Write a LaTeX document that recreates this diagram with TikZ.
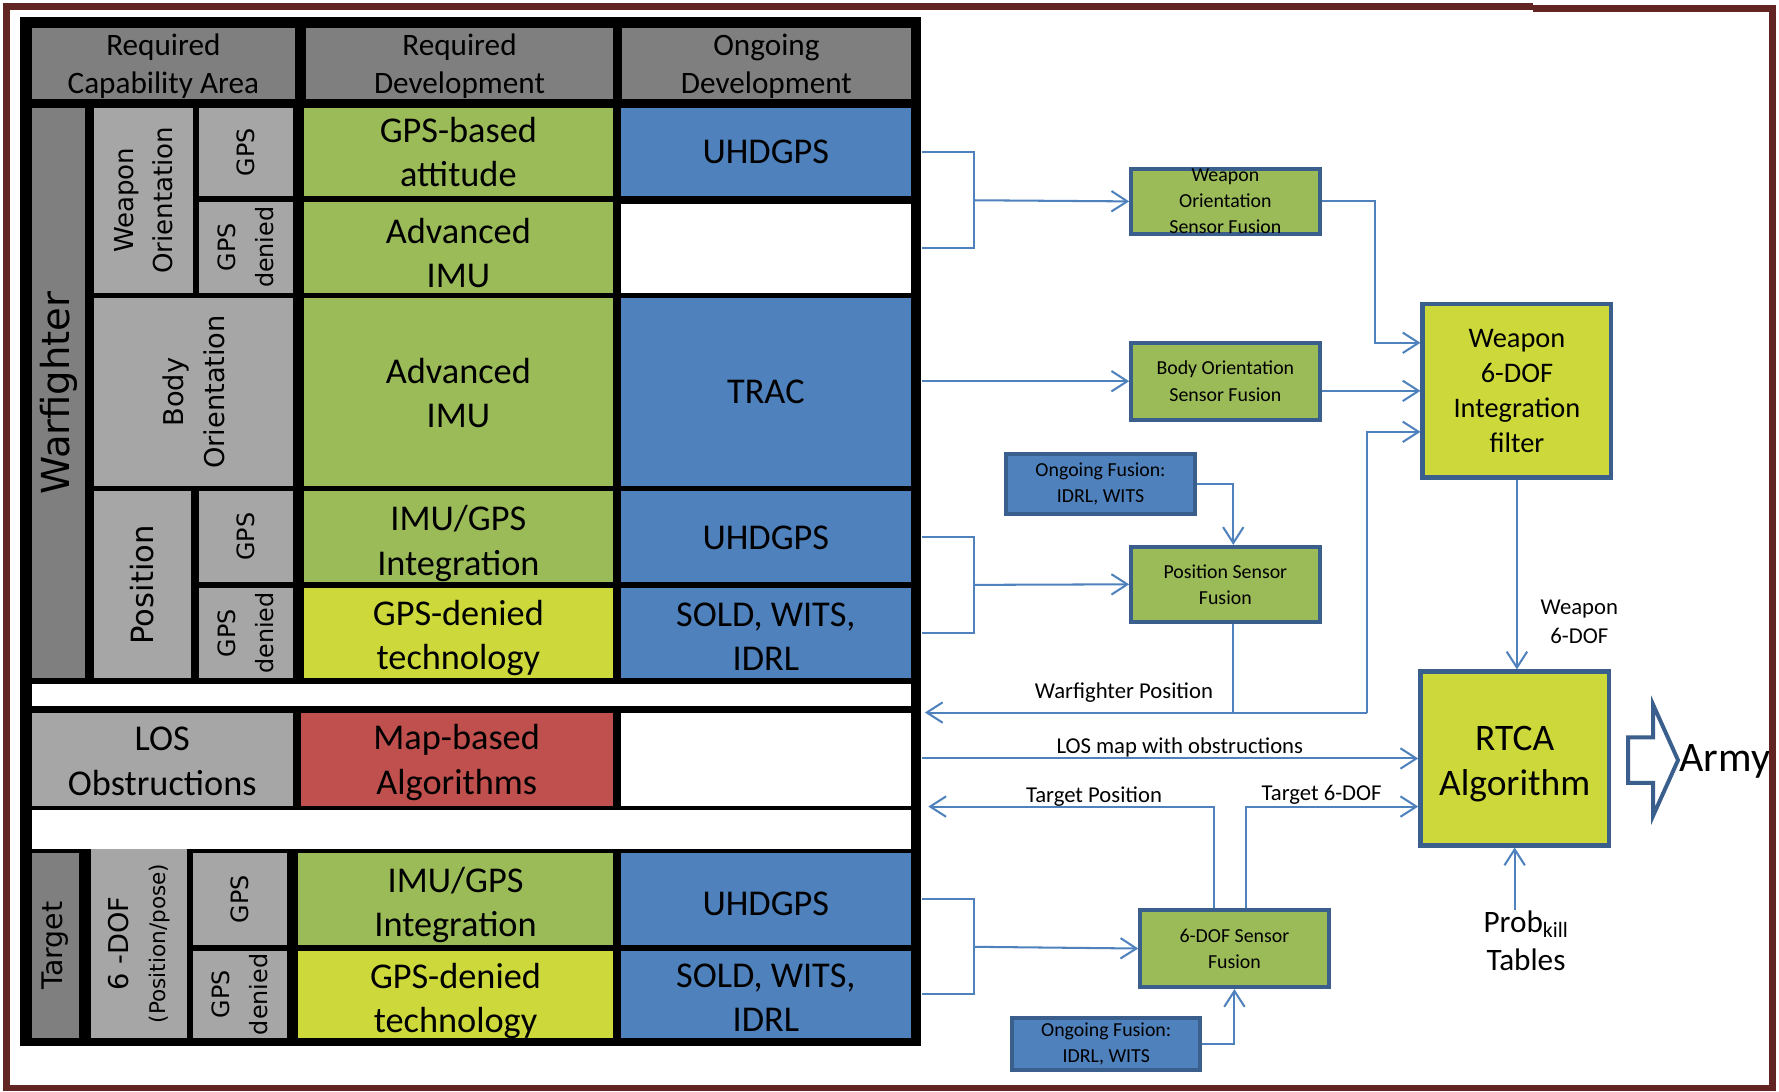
\documentclass[tikz,border=0pt]{standalone}
\usepackage{fontspec}
\setmainfont{Carlito}
\newfontfamily\vfont{DejaVu Sans}
\usetikzlibrary{arrows.meta,calc}

\definecolor{hdrgray}{HTML}{7F7F7F}
\definecolor{lgray}{HTML}{A6A6A6}
\definecolor{cgreen}{HTML}{9BBB59}
\definecolor{cblue}{HTML}{4F81BD}
\definecolor{cyellow}{HTML}{CDD93A}
\definecolor{cred}{HTML}{C0504D}
\definecolor{boxline}{HTML}{3A5F8C}
\definecolor{framered}{HTML}{632523}

\tikzset{
  tdrop/.store in=\tdrop, tdrop=0,
  cellbox/.style={inner sep=0pt, align=center, font=\fontsize{32}{39}\selectfont},
  hdr/.style={cellbox, fill=hdrgray, tdrop=2.5, font=\fontsize{27.5}{33}\selectfont},
  vlab/.style 2 args={rotate=90, align=center, inner sep=0pt, font=\vfont\fontsize{#1}{#2}\selectfont},
  fusebox/.style={draw=boxline, line width=3.5pt, fill=cgreen, inner sep=0pt, align=center,
    minimum width=166pt, font=\fontsize{17.5}{23}\selectfont},
  bigbox/.style={draw=boxline, line width=4pt, fill=cyellow, inner sep=0pt, align=center,
    minimum width=166pt, minimum height=153pt},
  link/.style={draw=cblue, line width=1.8pt},
  arr/.style={link, -{Straight Barb[length=14pt,width=18pt]}},
  lab/.style={inner sep=0pt, anchor=south, font=\fontsize{20}{25}\selectfont},
}

% table cell from its corners (x1,y1) to (x2,y2), text dropped by tdrop
\newcommand{\tcell}[7][]{%
  \node[cellbox,#1,minimum width={#5-#3},minimum height={#6-#4}] (#2)
    at ({(#3+#5)/2},{(#4+#6)/2}) {};
  \node[cellbox,#1,fill=none,yshift=-\tdrop] at (#2.center) {#7};}

\begin{document}
\begin{tikzpicture}[x=1pt,y=-1pt]
  \useasboundingbox (0,0) rectangle (1568,962);
  % table
  \node[fill=black, inner sep=0pt, minimum width=794pt, minimum height=907pt] (tbl) at (415,468.5) {};
  \tcell[hdr]{hcap}{28}{25}{260}{87}{Required\\Capability Area}
  \tcell[hdr]{hreq}{270}{25}{540}{87}{Required\\Development}
  \tcell[hdr]{hong}{548}{25}{803}{87}{Ongoing\\Development}
  % warfighter
  \tcell[fill=hdrgray]{warf}{28}{95}{75}{598}{}
  \tcell[fill=lgray]{wpnor}{83}{95}{170}{258}{}
  \tcell[fill=lgray]{gpsa}{175}{95}{258}{173}{}
  \tcell[fill=lgray]{gpsda}{175}{178}{258}{258}{}
  \tcell[fill=lgray]{bodyor}{83}{263}{258}{428}{}
  \tcell[fill=lgray]{posn}{83}{433}{168}{598}{}
  \tcell[fill=lgray]{gpsb}{175}{433}{258}{513}{}
  \tcell[fill=lgray]{gpsdb}{175}{518}{258}{598}{}
  \tcell[fill=cgreen]{reqa}{268}{95}{540}{173}{GPS-based\\attitude}
  \tcell[fill=cblue]{onga}{547}{95}{803}{173}{UHDGPS}
  \tcell[fill=cgreen,tdrop=5]{reqb}{268}{178}{540}{258}{Advanced\\IMU}
  \tcell[fill=white]{ongb}{547}{180}{803}{258}{}
  \tcell[fill=cgreen,tdrop=1]{reqc}{268}{263}{540}{428}{Advanced\\IMU}
  \tcell[fill=cblue]{ongc}{547}{263}{803}{428}{TRAC}
  \tcell[fill=cgreen,tdrop=6]{reqd}{268}{433}{540}{513}{IMU/GPS\\Integration}
  \tcell[fill=cblue,tdrop=1]{ongd}{547}{433}{803}{513}{UHDGPS}
  \tcell[fill=cyellow,tdrop=4]{reqe}{268}{518}{540}{598}{GPS-denied\\technology}
  \tcell[fill=cblue,tdrop=3]{onge}{547}{518}{803}{598}{SOLD, WITS,\\IDRL}
  \node[vlab={34}{40}] at (warf) {Warfighter};
  \node[vlab={23}{34}] at (wpnor) {Weapon\\Orientation};
  \node[vlab={21}{33}] at (gpsa) {GPS};
  \node[vlab={21}{33}] at (gpsda) {GPS\\denied};
  \node[vlab={24}{36}] at (bodyor) {Body\\Orientation};
  \node[vlab={27}{33}] at (posn) {Position};
  \node[vlab={21}{33}] at (gpsb) {GPS};
  \node[vlab={21}{33}] at (gpsdb) {GPS\\denied};
  % LOS
  \tcell[fill=white]{gapa}{28}{603}{803}{622}{}
  \tcell[fill=lgray,tdrop=2]{los}{28}{628}{258}{710}{LOS\\Obstructions}
  \tcell[fill=cred,tdrop=3]{reqf}{265}{628}{540}{710}{Map-based\\Algorithms}
  \tcell[fill=white]{ongf}{547}{628}{803}{710}{}
  \tcell[fill=white]{gapb}{28}{714}{803}{748}{}
  % target
  \tcell[fill=hdrgray]{targ}{28}{752}{70}{915}{}
  \tcell[fill=lgray]{sixdof}{80}{748}{165}{915}{}
  \tcell[fill=lgray]{gpsc}{170}{752}{253}{833}{}
  \tcell[fill=lgray]{gpsdc}{170}{838}{253}{915}{}
  \tcell[fill=cgreen,tdrop=5]{reqg}{263}{752}{540}{833}{IMU/GPS\\Integration}
  \tcell[fill=cblue,tdrop=4]{ongg}{547}{752}{803}{833}{UHDGPS}
  \tcell[fill=cyellow,tdrop=6]{reqh}{263}{838}{540}{915}{GPS-denied\\technology}
  \tcell[fill=cblue,tdrop=3]{ongh}{547}{838}{803}{915}{SOLD, WITS,\\IDRL}
  \node[vlab={25}{30}] at (targ) {Target};
  \node[vlab={24}{32}] at (sixdof) {6 -DOF\\{\fontsize{19}{22}\selectfont(Position/pose)}};
  \node[vlab={21}{33}] at (gpsc) {GPS};
  \node[vlab={21}{33}] at (gpsdc) {GPS\\denied};

  % fusion boxes
  \node[fusebox, minimum height=57pt] (wosf) at (1080,177.5) {Weapon\\Orientation\\Sensor Fusion};
  \node[fusebox, minimum height=68pt] (bosf) at (1080,336) {Body Orientation\\Sensor Fusion};
  \node[fusebox, fill=cblue, minimum height=53pt] (ongfa) at (970,426.5) {Ongoing Fusion:\\IDRL, WITS};
  \node[fusebox, minimum height=66pt] (psf) at (1080,515) {Position Sensor\\Fusion};
  \node[fusebox, minimum height=68pt] (sdsf) at (1088,836) {6-DOF Sensor\\Fusion};
  \node[fusebox, fill=cblue, minimum height=46pt] (ongfb) at (975,920) {Ongoing Fusion:\\IDRL, WITS};
  \node[bigbox, font=\fontsize{25}{31}\selectfont] (filt) at (1337,344.5) {Weapon\\6-DOF\\Integration\\filter};
  \node[bigbox, label={[align=center, inner sep=0pt, yshift=-5pt, font=\fontsize{33}{40}\selectfont]center:RTCA\\Algorithm}] (rtca) at (1335,668.5) {};
  \node[font=\fontsize{20}{25}\selectfont, align=center, inner sep=0pt] (wlab) at (1392,548) {Weapon\\6-DOF};
  \node[font=\fontsize{27.5}{34}\selectfont, align=center, inner sep=0pt] (prob) at (1345,829) {Prob\textsubscript{kill}\\Tables};

  % connectors
  \draw[link] (tbl.east |- onga) -- ++(46,0) |- (tbl.east |- ongb);
  \draw[arr] ($(tbl.east |- onga)!0.5!(tbl.east |- ongb)+(46,0)$) -- (wosf.west);
  \draw[arr] (wosf.east) -- ++(47,0) |- ($(filt.north west)!0.23!(filt.south west)$);
  \draw[arr] (tbl.east |- bosf.west) -- (bosf.west);
  \draw[arr] (bosf.east |- filt.west) -- (filt.west);
  \draw[arr] (ongfa.east) -| ([xshift=7pt]psf.north);
  \draw[link] (tbl.east |- ongd) -- ++(46,0) |- (tbl.east |- onge);
  \draw[arr] ($(tbl.east |- ongd)!0.5!(tbl.east |- onge)+(46,0)$) -- (psf.west);
  \coordinate (wfj) at (1205,628);
  \draw[link] ([xshift=7pt]psf.south) -- ([xshift=7pt]psf.south |- wfj);
  \draw[arr] (wfj) -- ($(tbl.east |- wfj)+(3,0)$) node[lab, pos=0.55, yshift=8pt] {Warfighter Position};
  \draw[arr] (wfj) |- ($(filt.north west)!0.73!(filt.south west)$);
  \draw[arr] (tbl.east |- rtca.west) -- (rtca.west) node[lab, pos=0.52] {LOS map with obstructions};
  \coordinate (rtin) at ($(rtca.north west)!0.77!(rtca.south west)$);
  \draw[arr] ([xshift=-18pt]sdsf.north) |- ($(tbl.east |- rtin)+(6,0)$) node[lab, pos=0.71, yshift=-1pt] {Target Position};
  \draw[arr] ([xshift=10pt]sdsf.north) |- (rtin) node[lab, pos=0.72, yshift=1pt] {Target 6-DOF};
  \draw[link] (tbl.east |- ongg) -- ++(46,0) |- (tbl.east |- ongh);
  \draw[arr] ($(tbl.east |- ongg)!0.5!(tbl.east |- ongh)+(46,0)$) -- (sdsf.west);
  \draw[arr] (ongfb.east) -| (sdsf.south);
  \draw[arr] (filt.south) -- (filt.south |- rtca.north);
  \draw[arr] (rtca.south |- prob.north) -- (rtca.south);

  % output arrow
  \draw[boxline, line width=3.5pt, fill=white] (1435,650) -- (1457,650) -- (1457,621)
    -- (1479,670) -- (1457,719) -- (1457,690) -- (1435,690) -- cycle;
  \node[anchor=west, inner sep=0pt, font=\fontsize{37}{40}\selectfont] (army) at (1480,671) {Army};

  % outer frame
  \draw[framered, line width=6pt] (1351,6) -- (6,6) -- (6,959) -- (1562,959) -- (1562,7.5) -- (1351,7.5);
\end{tikzpicture}
\end{document}
